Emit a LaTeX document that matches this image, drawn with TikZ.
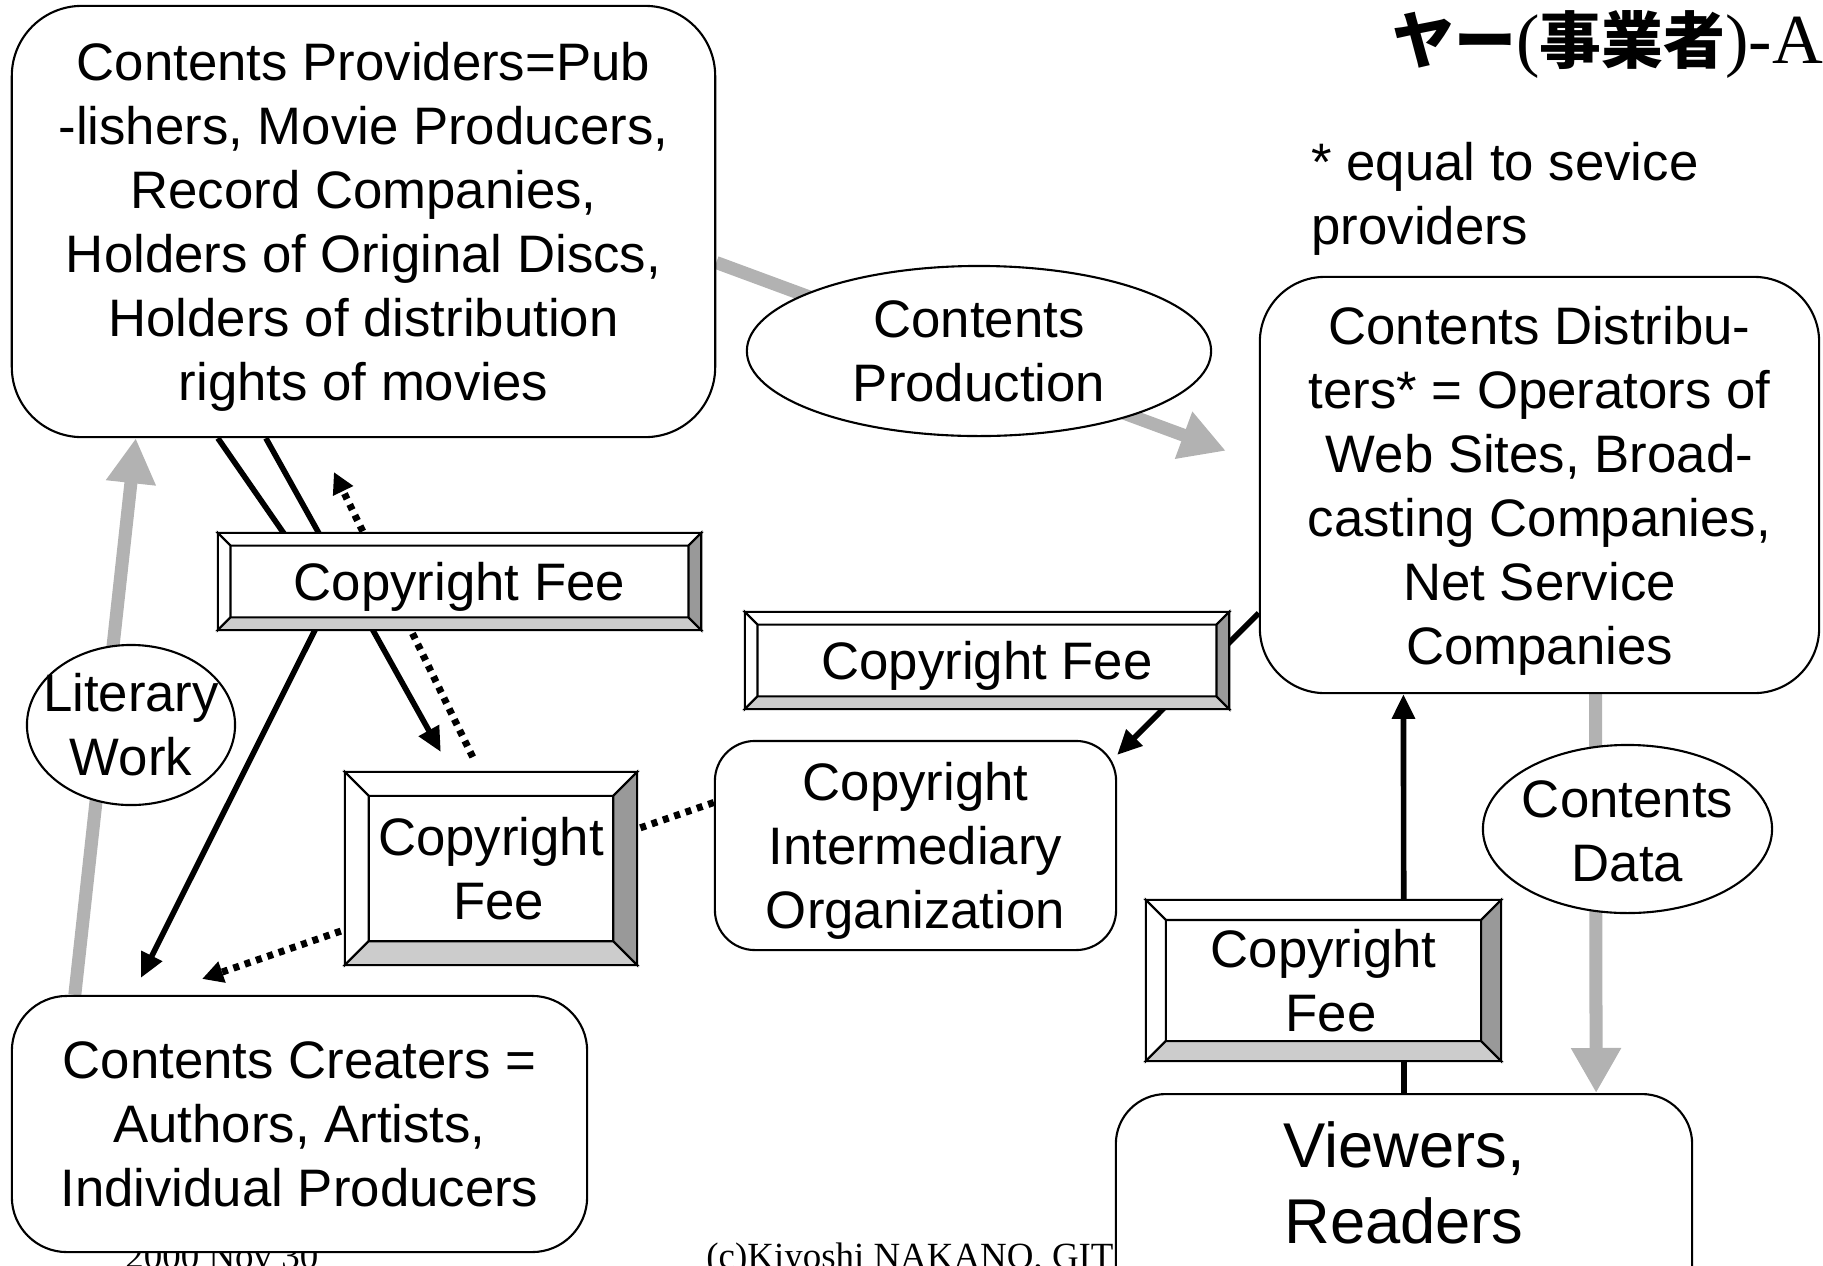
\documentclass[tikz,border=0pt]{standalone}
\usepackage{fontspec}
\setmainfont{Liberation Sans}
\newfontfamily\timesfont{Liberation Serif}
\newfontfamily\jpfont{Noto Sans CJK JP}
\usetikzlibrary{arrows.meta,shapes.geometric}

\definecolor{flowgray}{RGB}{178,178,178}
\definecolor{bevellight}{RGB}{204,204,204}
\definecolor{beveldark}{RGB}{153,153,153}

\pgfdeclarelayer{back}
\pgfsetlayers{back,main}

\tikzset{
  txt/.style={font=\fontsize{15}{18.2}\selectfont, align=center},
  roundbox/.style={txt, draw, fill=white, line width=0.6pt, rounded corners=#1, inner sep=0pt, text depth=0pt},
  roundbox/.default=0.5cm,
  oval/.style={ellipse, draw, fill=white, line width=0.6pt, inner sep=0pt},
  feebox/.style={txt, draw, fill=white, line width=0.6pt, inner sep=0pt, text depth=0pt},
  flow/.style={draw=flowgray, line width=3.7pt, -{Triangle[length=12.8pt,width=13.4pt]}},
  fee/.style={line width=1.6pt, -{Triangle[length=7pt,width=6.3pt]}},
  feedot/.style={line width=2pt, dash pattern=on 1.7pt off 1.7pt, -{Triangle[length=6pt,width=6pt]}}
}

\newcommand\feebevel[2]{%
  \filldraw[fill=white, line width=0.6pt] (#1.north west) -- (#1.north east)
    -- ([shift={(-#2,-#2)}]#1.north east) -- ([shift={(#2,-#2)}]#1.north west) -- cycle;
  \filldraw[fill=white, line width=0.6pt] (#1.north west) -- (#1.south west)
    -- ([shift={(#2,#2)}]#1.south west) -- ([shift={(#2,-#2)}]#1.north west) -- cycle;
  \filldraw[fill=bevellight, line width=0.6pt] (#1.south west) -- (#1.south east)
    -- ([shift={(-#2,#2)}]#1.south east) -- ([shift={(#2,#2)}]#1.south west) -- cycle;
  \filldraw[fill=beveldark, line width=0.6pt] (#1.south east) -- (#1.north east)
    -- ([shift={(-#2,-#2)}]#1.north east) -- ([shift={(-#2,#2)}]#1.south east) -- cycle;
}

\begin{document}
\begin{tikzpicture}[x=0.01cm,y=-0.01cm]
\useasboundingbox (0,0) rectangle (1823,1266);

% players
\node[roundbox=0.7cm, minimum width=7.03cm, minimum height=4.31cm] (prov) at (363.5,221.5)
  {Contents Providers=Pub\\-lishers, Movie Producers,\\Record Companies,\\Holders of Original Discs,\\Holders of distribution\\rights of movies};
\node[roundbox=0.65cm, minimum width=5.59cm, minimum height=4.16cm] (dist) at (1539.5,485)
  {Contents Distribu-\\ters* = Operators of\\Web Sites, Broad-\\casting Companies,\\Net Service\\Companies};
\node[roundbox=0.4cm, minimum width=4.01cm, minimum height=2.09cm] (inter) at (915.5,845.5)
  {Copyright\\Intermediary\\Organization};
\node[roundbox=0.55cm, minimum width=5.75cm, minimum height=2.56cm] (creat) at (299.5,1124)
  {Contents Creaters =\\Authors, Artists,\\Individual Producers};
\node[roundbox=0.5cm, minimum width=5.76cm, minimum height=2.4cm, anchor=north] (view) at (1404,1093) {};
\node[font=\fontsize{18}{21.6}\selectfont, align=center] (viewtxt) at (1404,1183) {Viewers,\\Readers};

\node[txt, anchor=west, align=left] (note) at (1299,199) {* equal to sevice\\providers};
\node[anchor=base west, font=\fontsize{17.6}{21}\selectfont] (title) at (1380,63)
  {{\jpfont\bfseries ヤー}{\timesfont\fontsize{20}{22}\selectfont (}{\jpfont\bfseries 事業者}{\timesfont\fontsize{20}{22}\selectfont )-A}};

% what flows
\node[oval, minimum width=4.64cm, minimum height=1.7cm] (prod) at (979,351) {};
\node[txt] (prodtxt) at (prod) {Contents\\Production};
\node[oval, minimum width=2.08cm, minimum height=1.6cm] (lit) at (131,725) {};
\node[txt] (littxt) at (lit) {Literary\\Work};
\node[oval, minimum width=2.89cm, minimum height=1.68cm] (cdata) at (1627.5,829) {};
\node[txt] (cdatatxt) at ([yshift=-0.02cm]cdata) {Contents\\Data};

\node[feebox, minimum width=4.81cm, minimum height=0.95cm] (fee1) at (459.5,581.5) {Copyright Fee};
\feebevel{fee1}{3.6pt}
\node[feebox, minimum width=4.82cm, minimum height=0.95cm] (fee2) at (987,660.5) {Copyright Fee};
\feebevel{fee2}{3.6pt}
\node[feebox, minimum width=2.9cm, minimum height=1.91cm] (fee3) at (491,868.5) {Copyright\\\hspace*{0.15cm}Fee};
\feebevel{fee3}{6.8pt}
\node[feebox, minimum width=3.53cm, minimum height=1.59cm] (fee4) at (1323.5,980.5) {Copyright\\\hspace*{0.15cm}Fee};
\feebevel{fee4}{5.7pt}

\coordinate (bend) at (330,600);

\begin{pgfonlayer}{back}
\node[anchor=base west, font=\timesfont\fontsize{10.5}{13}\selectfont] (date) at (113,1268) {2000 Nov 30};
\node[anchor=base west, font=\timesfont\fontsize{10.5}{13}\selectfont] (credit) at (694,1268) {(c)Kiyoshi NAKANO, GIT};

\draw[flow, shorten >=10pt] ([yshift=-0.41cm]prov.east) -- ([yshift=0.22cm]dist.west);
\draw[flow] ([xshift=0.64cm]creat.north west) -- ([xshift=1.25cm]prov.south west);
\draw[flow] ([xshift=0.56cm]dist.south) -- ([xshift=1.92cm]view.north);

\draw[fee, shorten >=5.4pt] ([xshift=2.07cm]prov.south west) -- (bend) -- ([xshift=1.215cm]creat.north west);
\draw[fee, shorten >=6.5pt] ([xshift=2.55cm]prov.south west) -- ([xshift=1.07cm]fee3.north west);
\draw[fee] ([yshift=-1.28cm]dist.west) -- ([yshift=-0.15cm]inter.north east);
\draw[fee] (view.north) -- ([xshift=-1.36cm]dist.south);

\draw[feedot, shorten <=4.7pt, shorten >=10.7pt] ([xshift=1.35cm]fee3.north west) -- ([xshift=3.065cm]prov.south west);
\draw[feedot, shorten >=13.9pt] ([yshift=0.43cm]inter.west) -- ([xshift=1.45cm]creat.north west);
\end{pgfonlayer}
\end{tikzpicture}
\end{document}
